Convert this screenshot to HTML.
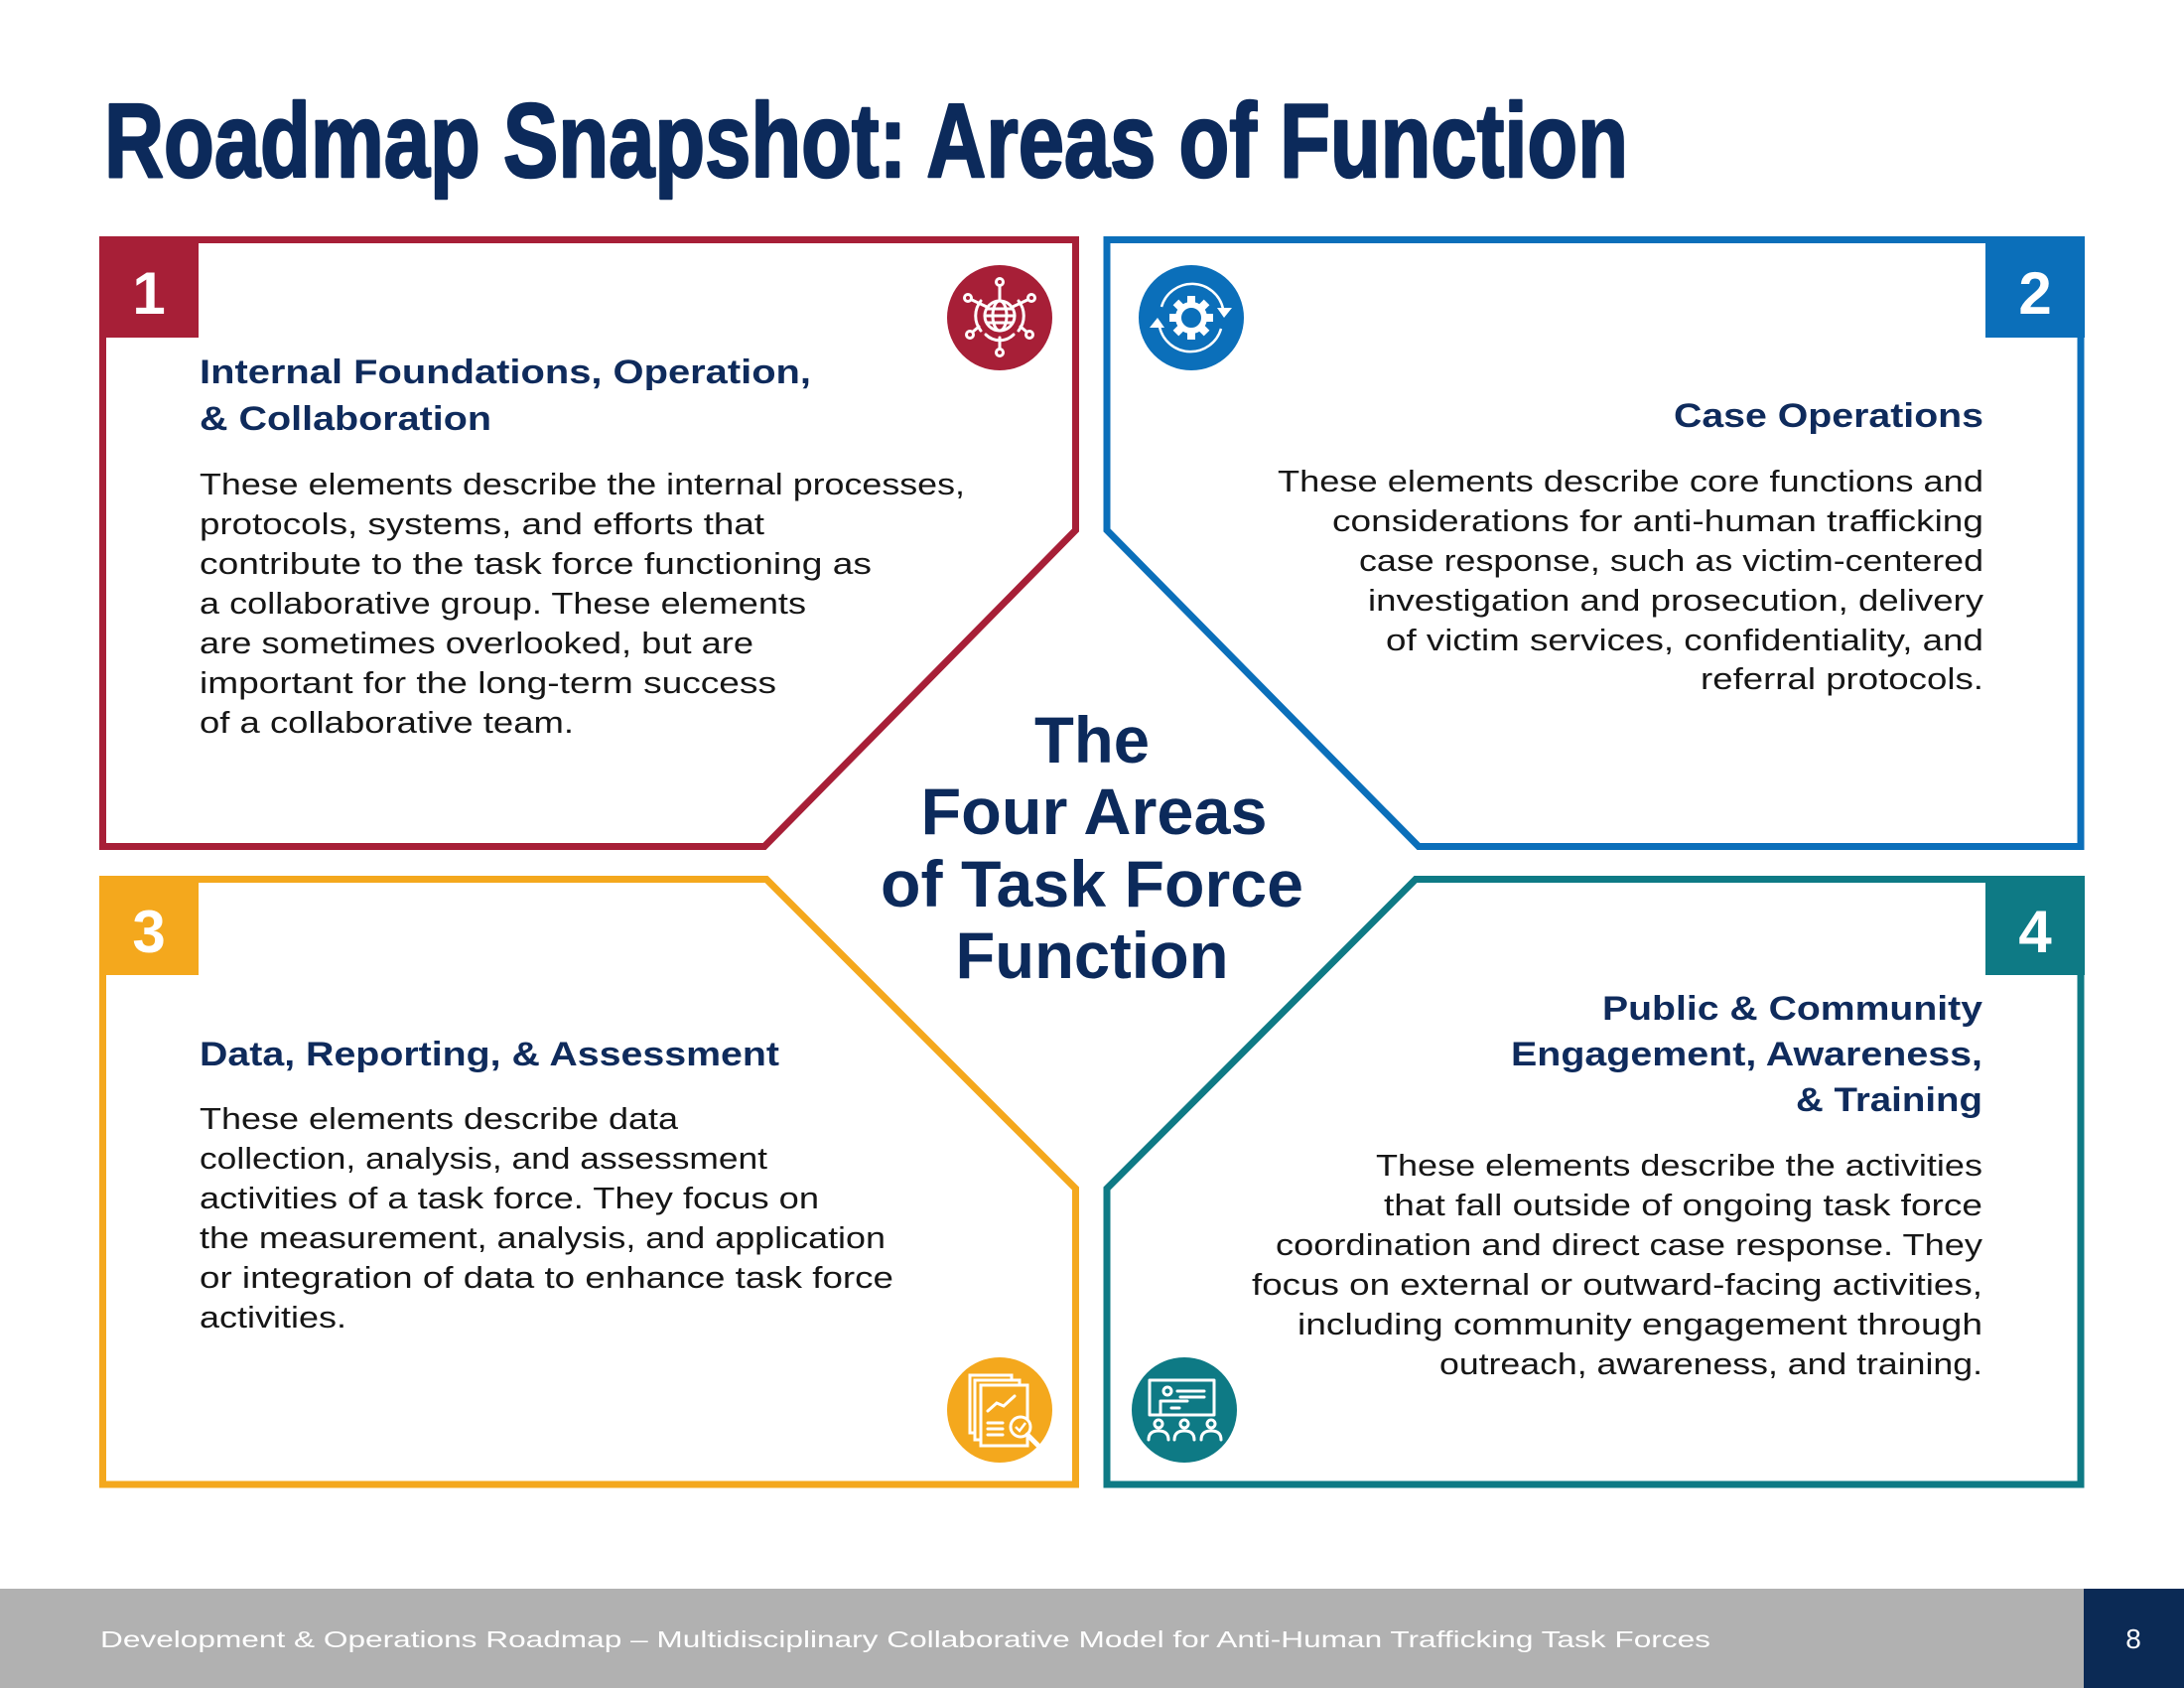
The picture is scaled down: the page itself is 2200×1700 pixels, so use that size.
<!DOCTYPE html>
<html>
<head>
<meta charset="utf-8">
<style>
  html,body{margin:0;padding:0;background:#fff;}
  svg{display:block;}
  .hd{font-family:"Liberation Sans",sans-serif;font-weight:bold;fill:#0f2b5c;font-size:34px;}
  .bd{font-family:"Liberation Sans",sans-serif;fill:#161616;font-size:30.5px;}
  .num{font-family:"Liberation Sans",sans-serif;font-weight:bold;fill:#fff;font-size:60px;}
  .ctr{font-family:"Liberation Sans",sans-serif;font-weight:bold;fill:#0c2a5b;font-size:66px;}
</style>
</head>
<body>
<svg width="2200" height="1700" viewBox="0 0 2200 1700" xmlns="http://www.w3.org/2000/svg">
  <rect x="0" y="0" width="2200" height="1700" fill="#fff"/>

  <!-- Title -->
  <text x="105" y="178" font-family="Liberation Sans, sans-serif" font-weight="bold" font-size="106" fill="#0c2a5b" stroke="#0c2a5b" stroke-width="2.5" stroke-linejoin="round" textLength="1535" lengthAdjust="spacingAndGlyphs">Roadmap Snapshot: Areas of Function</text>

  <!-- Box borders -->
  <g fill="none" stroke-width="7" stroke-linejoin="miter">
    <path d="M103.5,241.5 H1083.5 V534 L770,852.5 H103.5 Z" stroke="#a71f37"/>
    <path d="M1115,241.5 H2096 V852.5 H1429 L1115,534 Z" stroke="#0b6fba"/>
    <path d="M103.5,885.5 H772 L1083.5,1197 V1495 H103.5 Z" stroke="#f4a81d"/>
    <path d="M1115,1197 L1426,885.5 H2096 V1495 H1115 Z" stroke="#0e7a85"/>
  </g>

  <!-- Badges -->
  <rect x="100" y="238" width="100" height="102" fill="#a71f37"/>
  <rect x="2000" y="238" width="100" height="102" fill="#0b6fba"/>
  <rect x="100" y="882" width="100" height="100" fill="#f4a81d"/>
  <rect x="2000" y="882" width="100" height="100" fill="#0e7a85"/>
  <text class="num" x="150" y="316" text-anchor="middle">1</text>
  <text class="num" x="2050" y="316" text-anchor="middle">2</text>
  <text class="num" x="150" y="959" text-anchor="middle">3</text>
  <text class="num" x="2050" y="959" text-anchor="middle">4</text>

  <!-- Box 1 text -->
  <text class="hd" x="201" y="386" textLength="616" lengthAdjust="spacingAndGlyphs">Internal Foundations, Operation,</text>
  <text class="hd" x="201" y="433" textLength="294" lengthAdjust="spacingAndGlyphs">&amp; Collaboration</text>
  <text class="bd" x="201" y="498" textLength="771" lengthAdjust="spacingAndGlyphs">These elements describe the internal processes,</text>
  <text class="bd" x="201" y="538" textLength="569" lengthAdjust="spacingAndGlyphs">protocols, systems, and efforts that</text>
  <text class="bd" x="201" y="578" textLength="677" lengthAdjust="spacingAndGlyphs">contribute to the task force functioning as</text>
  <text class="bd" x="201" y="618" textLength="611" lengthAdjust="spacingAndGlyphs">a collaborative group. These elements</text>
  <text class="bd" x="201" y="658" textLength="558" lengthAdjust="spacingAndGlyphs">are sometimes overlooked, but are</text>
  <text class="bd" x="201" y="698" textLength="581" lengthAdjust="spacingAndGlyphs">important for the long-term success</text>
  <text class="bd" x="201" y="738" textLength="377" lengthAdjust="spacingAndGlyphs">of a collaborative team.</text>

  <!-- Box 2 text -->
  <text class="hd" x="1998" y="430" text-anchor="end" textLength="312" lengthAdjust="spacingAndGlyphs">Case Operations</text>
  <text class="bd" x="1998" y="495" text-anchor="end" textLength="711" lengthAdjust="spacingAndGlyphs">These elements describe core functions and</text>
  <text class="bd" x="1998" y="535" text-anchor="end" textLength="656" lengthAdjust="spacingAndGlyphs">considerations for anti-human trafficking</text>
  <text class="bd" x="1998" y="575" text-anchor="end" textLength="629" lengthAdjust="spacingAndGlyphs">case response, such as victim-centered</text>
  <text class="bd" x="1998" y="615" text-anchor="end" textLength="620" lengthAdjust="spacingAndGlyphs">investigation and prosecution, delivery</text>
  <text class="bd" x="1998" y="655" text-anchor="end" textLength="602" lengthAdjust="spacingAndGlyphs">of victim services, confidentiality, and</text>
  <text class="bd" x="1998" y="694" text-anchor="end" textLength="285" lengthAdjust="spacingAndGlyphs">referral protocols.</text>

  <!-- Box 3 text -->
  <text class="hd" x="201" y="1073" textLength="584" lengthAdjust="spacingAndGlyphs">Data, Reporting, &amp; Assessment</text>
  <text class="bd" x="201" y="1137" textLength="482" lengthAdjust="spacingAndGlyphs">These elements describe data</text>
  <text class="bd" x="201" y="1177" textLength="572" lengthAdjust="spacingAndGlyphs">collection, analysis, and assessment</text>
  <text class="bd" x="201" y="1217" textLength="624" lengthAdjust="spacingAndGlyphs">activities of a task force. They focus on</text>
  <text class="bd" x="201" y="1257" textLength="691" lengthAdjust="spacingAndGlyphs">the measurement, analysis, and application</text>
  <text class="bd" x="201" y="1297" textLength="699" lengthAdjust="spacingAndGlyphs">or integration of data to enhance task force</text>
  <text class="bd" x="201" y="1337" textLength="148" lengthAdjust="spacingAndGlyphs">activities.</text>

  <!-- Box 4 text -->
  <text class="hd" x="1997" y="1027" text-anchor="end" textLength="383" lengthAdjust="spacingAndGlyphs">Public &amp; Community</text>
  <text class="hd" x="1997" y="1073" text-anchor="end" textLength="475" lengthAdjust="spacingAndGlyphs">Engagement, Awareness,</text>
  <text class="hd" x="1997" y="1119" text-anchor="end" textLength="188" lengthAdjust="spacingAndGlyphs">&amp; Training</text>
  <text class="bd" x="1997" y="1184" text-anchor="end" textLength="611" lengthAdjust="spacingAndGlyphs">These elements describe the activities</text>
  <text class="bd" x="1997" y="1224" text-anchor="end" textLength="603" lengthAdjust="spacingAndGlyphs">that fall outside of ongoing task force</text>
  <text class="bd" x="1997" y="1264" text-anchor="end" textLength="712" lengthAdjust="spacingAndGlyphs">coordination and direct case response. They</text>
  <text class="bd" x="1997" y="1304" text-anchor="end" textLength="736" lengthAdjust="spacingAndGlyphs">focus on external or outward-facing activities,</text>
  <text class="bd" x="1997" y="1344" text-anchor="end" textLength="690" lengthAdjust="spacingAndGlyphs">including community engagement through</text>
  <text class="bd" x="1997" y="1384" text-anchor="end" textLength="547" lengthAdjust="spacingAndGlyphs">outreach, awareness, and training.</text>

  <!-- Center text -->
  <text class="ctr" x="1100" y="768" text-anchor="middle" textLength="116" lengthAdjust="spacingAndGlyphs">The</text>
  <text class="ctr" x="1102" y="840" text-anchor="middle" textLength="349" lengthAdjust="spacingAndGlyphs">Four Areas</text>
  <text class="ctr" x="1100" y="913" text-anchor="middle" textLength="426" lengthAdjust="spacingAndGlyphs">of Task Force</text>
  <text class="ctr" x="1100" y="985" text-anchor="middle" textLength="275" lengthAdjust="spacingAndGlyphs">Function</text>

  <!-- Icon 1: globe network (red) -->
  <circle cx="1007" cy="320" r="53" fill="#a71f37"/>
  <g stroke="#fff" stroke-width="3" fill="none" stroke-linecap="round">
    <circle cx="1007" cy="318" r="15"/>
    <ellipse cx="1007" cy="318" rx="7" ry="15"/>
    <line x1="992" y1="318" x2="1022" y2="318"/>
    <line x1="994" y1="311" x2="1020" y2="311"/>
    <line x1="994" y1="325" x2="1020" y2="325"/>
    <line x1="1007" y1="303" x2="1007" y2="288"/>
    <line x1="1007" y1="340" x2="1007" y2="351"/>
    <path d="M988,303 A24,24 0 0 0 988,333"/>
    <path d="M1026,303 A24,24 0 0 1 1026,333"/>
    <path d="M993,337 A20,20 0 0 0 1021,337"/>
    <line x1="994" y1="309" x2="979" y2="302"/>
    <line x1="1020" y1="309" x2="1035" y2="302"/>
    <line x1="986" y1="329" x2="980" y2="334"/>
    <line x1="1028" y1="329" x2="1034" y2="334"/>
    <circle cx="1007" cy="284" r="3.5"/>
    <circle cx="975" cy="300" r="3.5"/>
    <circle cx="1039" cy="300" r="3.5"/>
    <circle cx="977" cy="337" r="3.5"/>
    <circle cx="1037" cy="337" r="3.5"/>
    <circle cx="1007" cy="355" r="3.5"/>
  </g>

  <!-- Icon 2: gear with cycle arrows (blue) -->
  <circle cx="1200" cy="320" r="53" fill="#0b6fba"/>
  <g fill="#fff">
    <rect x="1196" y="298" width="8" height="8"/>
    <rect x="1196" y="334" width="8" height="8"/>
    <rect x="1178" y="316" width="8" height="8"/>
    <rect x="1214" y="316" width="8" height="8"/>
    <rect x="1196" y="298" width="8" height="8" transform="rotate(45 1200 320)"/>
    <rect x="1196" y="334" width="8" height="8" transform="rotate(45 1200 320)"/>
    <rect x="1178" y="316" width="8" height="8" transform="rotate(45 1200 320)"/>
    <rect x="1214" y="316" width="8" height="8" transform="rotate(45 1200 320)"/>
    <polygon points="1226,310 1241,310 1233,320"/>
    <polygon points="1158,330 1173,330 1166,320"/>
  </g>
  <circle cx="1200" cy="320" r="13" fill="none" stroke="#fff" stroke-width="6"/>
  <g stroke="#fff" stroke-width="2.5" fill="none">
    <path d="M1170,309 A32,32 0 0 1 1232,311"/>
    <path d="M1230,331 A32,32 0 0 1 1168,329"/>
  </g>

  <!-- Icon 3: documents with magnifier (yellow) -->
  <circle cx="1007" cy="1420" r="53" fill="#f4a81d"/>
  <g stroke="#fff" stroke-width="3" fill="#f4a81d" stroke-linejoin="miter">
    <rect x="977" y="1385" width="42" height="58"/>
    <rect x="982" y="1390" width="45" height="60"/>
    <rect x="988" y="1395" width="47" height="61"/>
  </g>
  <g stroke="#fff" stroke-width="3" fill="none" stroke-linecap="round">
    <polyline points="995,1421 1004,1413 1011,1416 1022,1406"/>
    <line x1="995" y1="1433" x2="1010" y2="1433"/>
    <line x1="995" y1="1439" x2="1010" y2="1439"/>
    <line x1="995" y1="1445" x2="1010" y2="1445"/>
  </g>
  <circle cx="1028" cy="1437" r="10" fill="#f4a81d" stroke="#fff" stroke-width="3"/>
  <polyline points="1023,1437 1027,1441 1033,1433" fill="none" stroke="#fff" stroke-width="2.5"/>
  <line x1="1035" y1="1445" x2="1046" y2="1456" stroke="#fff" stroke-width="5" stroke-linecap="round"/>

  <!-- Icon 4: presentation with audience (teal) -->
  <circle cx="1193" cy="1420" r="53" fill="#0e7a85"/>
  <g stroke="#fff" stroke-width="3" fill="none" stroke-linecap="round" stroke-linejoin="round">
    <rect x="1158" y="1390" width="65" height="35"/>
    <circle cx="1176" cy="1401" r="4"/>
    <path d="M1169,1425 V1411 H1196"/>
    <path d="M1180,1418 H1188"/>
    <line x1="1186" y1="1401" x2="1213" y2="1401"/>
    <line x1="1189" y1="1407" x2="1213" y2="1407"/>
    <circle cx="1167" cy="1434" r="4"/>
    <circle cx="1193" cy="1434" r="4"/>
    <circle cx="1220" cy="1434" r="4"/>
    <path d="M1157,1450 Q1157,1441 1167,1441 Q1177,1441 1177,1450"/>
    <path d="M1183,1450 Q1183,1441 1193,1441 Q1203,1441 1203,1450"/>
    <path d="M1210,1450 Q1210,1441 1220,1441 Q1230,1441 1230,1450"/>
  </g>

  <!-- Footer -->
  <rect x="0" y="1600" width="2099" height="100" fill="#b1b1b1"/>
  <rect x="2099" y="1600" width="101" height="100" fill="#0b2a55"/>
  <text x="101" y="1659" font-family="Liberation Sans, sans-serif" font-size="23" fill="#fff" textLength="1622" lengthAdjust="spacingAndGlyphs">Development &amp; Operations Roadmap – Multidisciplinary Collaborative Model for Anti-Human Trafficking Task Forces</text>
  <text x="2149" y="1660" text-anchor="middle" font-family="Liberation Sans, sans-serif" font-size="28" fill="#fff">8</text>
</svg>
</body>
</html>
